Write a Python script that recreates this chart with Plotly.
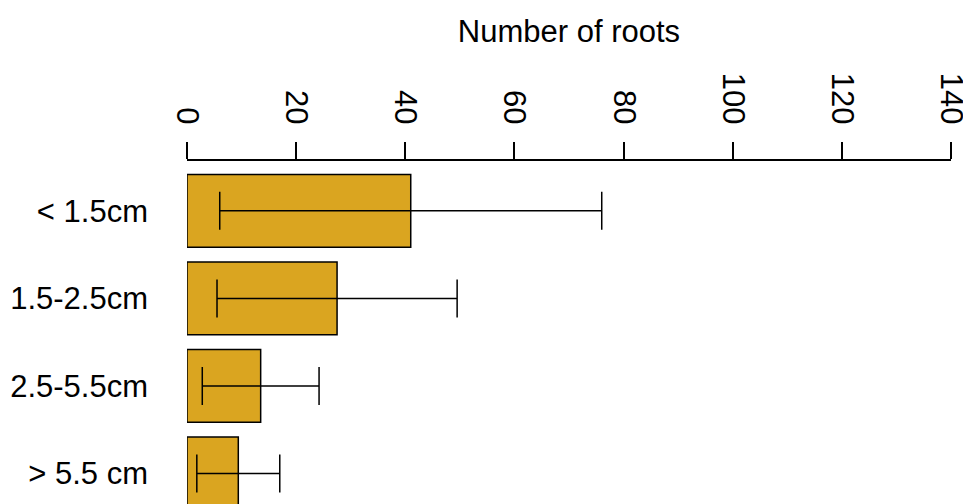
import plotly.graph_objects as go

# Root-length classes and mean number of roots with their error margins
size_classes = ["< 1.5cm", "1.5-2.5cm", "2.5-5.5cm", "> 5.5 cm"]
mean_roots = [41.0, 27.5, 13.5, 9.4]
error_roots = [35.0, 22.0, 10.7, 7.6]
x_ticks = [0, 20, 40, 60, 80, 100, 120, 140]

FONT = "Liberation Sans, Arial, sans-serif"

fig = go.Figure(
    go.Bar(
        x=mean_roots,
        y=size_classes,
        orientation="h",
        marker=dict(color="#DAA520", line=dict(color="black", width=1.5)),
        error_x=dict(type="data", array=error_roots, visible=True,
                     color="black", thickness=1.5, width=19),
    )
)

fig.update_layout(
    width=963,
    height=504,
    margin=dict(l=187, r=12, t=161, b=0, autoexpand=False),
    paper_bgcolor="white",
    plot_bgcolor="white",
    bargap=0.167,
    showlegend=False,
    font=dict(family=FONT, size=31, color="black"),
)

fig.update_xaxes(
    side="top",
    range=[0, 140],
    tickmode="array",
    tickvals=x_ticks,
    ticktext=[str(v) for v in x_ticks],
    tickangle=90,
    ticks="outside",
    ticklen=17,
    tickwidth=1.5,
    tickcolor="black",
    showline=True,
    linecolor="black",
    linewidth=1.5,
    showgrid=False,
    zeroline=False,
    automargin=False,
    ticklabelstandoff=7,
    ticklabeloverflow="allow",
    title=dict(text="Number of roots", standoff=21, font=dict(size=31)),
)

fig.update_yaxes(
    type="category",
    categoryorder="array",
    categoryarray=size_classes,
    range=[3.35, -0.57],
    showline=False,
    showgrid=False,
    zeroline=False,
    automargin=False,
    ticks="",
    ticklabelstandoff=38,
)

fig.write_html("out.html")
